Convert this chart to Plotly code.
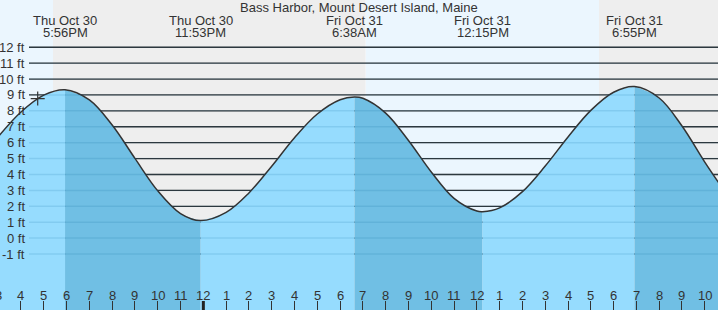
import plotly.graph_objects as go

# ---------------- data ----------------
title = "Bass Harbor, Mount Desert Island, Maine"

# hours since Thu Oct 30 00:00 and tide height (ft)
hours = [15, 16, 17, 17.933, 19, 20, 21, 22, 23, 23.883, 25, 26, 27, 28, 29, 30,
         30.633, 31, 32, 33, 34, 35, 36, 36.25, 37, 38, 39, 40, 41, 42, 42.917,
         44, 45, 46, 47]
heights = [6.37, 7.93, 8.99, 9.33, 8.69, 7.11, 5.01, 2.97, 1.54, 1.10, 1.62, 2.84,
           4.52, 6.31, 7.80, 8.70, 8.87, 8.79, 7.86, 6.14, 4.16, 2.50, 1.70, 1.66,
           1.90, 2.92, 4.53, 6.36, 8.03, 9.17, 9.53, 8.81, 7.05, 4.78, 2.67]

# high / low events
event_hours = [17.933, 23.883, 30.633, 36.25, 42.917]
event_days = ["Thu Oct 30", "Thu Oct 30", "Fri Oct 31", "Fri Oct 31", "Fri Oct 31"]
event_times = ["5:56PM", "11:53PM", "6:38AM", "12:15PM", "6:55PM"]

# current time marker
now_hour = 16.733
now_height = 8.77

# daylight (sunrise -> sunset) periods, hours
day_periods = [(0, 17.405), (31.117, 41.36)]
night_periods = [(17.405, 31.117), (41.36, 50)]

# axis ticks
y_ticks = [12, 11, 10, 9, 8, 7, 6, 5, 4, 3, 2, 1, 0, -1]
x_tick_hours = list(range(15, 47))
x_tick_labels = ["3", "4", "5", "6", "7", "8", "9", "10", "11", "12", "1", "2", "3",
                 "4", "5", "6", "7", "8", "9", "10", "11", "12", "1", "2", "3", "4",
                 "5", "6", "7", "8", "9", "10"]
midnight_hour = 24

x_range = [15.079, 46.58]
y_range = [-4.52, 14.97]

# ---------------- styles ----------------
FONT = "Liberation Sans, Arial, sans-serif"
TXT = "#333333"
DAY_BG = "#ebf6fe"
NIGHT_BG = "#eeeeee"
WATER_RISE = "#96dcfe"
WATER_FALL = "#70bfe4"
W, H = 718, 310
label_left_px = 27
grid_start_px = 29


def xpaper(h):
    return (h - x_range[0]) / (x_range[1] - x_range[0])


fig = go.Figure()

# water fill, split at each high/low
bounds = [hours[0]] + event_hours + [hours[-1]]
for k in range(len(bounds) - 1):
    a, b = bounds[k], bounds[k + 1]
    xs = [h for h in hours if a <= h <= b]
    ys = [heights[hours.index(h)] for h in xs]
    falling = ys[0] > ys[-1]
    fig.add_trace(go.Scatter(x=[xs[0], xs[-1]], y=[y_range[0] - 2] * 2, mode="lines",
                             line=dict(width=0), hoverinfo="skip", showlegend=False))
    fig.add_trace(go.Scatter(x=xs, y=ys, mode="lines", line=dict(width=0, shape="spline"),
                             fill="tonexty",
                             fillcolor=WATER_FALL if falling else WATER_RISE,
                             hoverinfo="skip", showlegend=False))

# tide outline
fig.add_trace(go.Scatter(x=hours, y=heights, mode="lines",
                         line=dict(color="#333333", width=1.5, shape="spline"),
                         hoverinfo="skip", showlegend=False))

# current time marker
fig.add_trace(go.Scatter(x=[now_hour], y=[now_height], mode="markers",
                         marker=dict(symbol="cross-thin", size=10,
                                     line=dict(color="#333333", width=1.2)),
                         hoverinfo="skip", showlegend=False))

shapes = []
for a, b in day_periods:
    shapes.append(dict(type="rect", xref="x", yref="paper", x0=a, x1=b, y0=0, y1=1,
                       fillcolor=DAY_BG, line=dict(width=0), layer="below"))
for a, b in night_periods:
    shapes.append(dict(type="rect", xref="x", yref="paper", x0=a, x1=b, y0=0, y1=1,
                       fillcolor=NIGHT_BG, line=dict(width=0), layer="below"))
for v in y_ticks:
    shapes.append(dict(type="line", xref="paper", yref="y", x0=grid_start_px / W, x1=1,
                       y0=v, y1=v, line=dict(color="#333333", width=1.3), layer="below"))
    shapes.append(dict(type="line", xref="paper", yref="y", x0=grid_start_px / W, x1=1,
                       y0=v, y1=v, line=dict(color="rgba(0,90,150,0.13)", width=1.5),
                       layer="above"))
# thick midnight tick
shapes.append(dict(type="line", xref="x", yref="paper", x0=midnight_hour, x1=midnight_hour,
                   y0=0, y1=9 / H, line=dict(color="#222222", width=3), layer="above"))

annotations = []
for v in y_ticks:
    annotations.append(dict(xref="paper", yref="y", x=label_left_px / W, y=v,
                            text=f"{v} ft", showarrow=False, xanchor="right",
                            yanchor="middle", font=dict(family=FONT, size=13, color=TXT)))
for h, lab in zip(x_tick_hours, x_tick_labels):
    annotations.append(dict(xref="paper", yref="paper", x=xpaper(h), y=(H - 295) / H,
                            text=lab, showarrow=False, xanchor="center", yanchor="middle",
                            font=dict(family=FONT, size=13, color=TXT)))
for h, d, t in zip(event_hours, event_days, event_times):
    annotations.append(dict(xref="x", yref="paper", x=h, y=(H - 20) / H, text=d,
                            showarrow=False, xanchor="center", yanchor="middle",
                            font=dict(family=FONT, size=13, color=TXT)))
    annotations.append(dict(xref="x", yref="paper", x=h, y=(H - 32.5) / H, text=t,
                            showarrow=False, xanchor="center", yanchor="middle",
                            font=dict(family=FONT, size=13, color=TXT)))
annotations.append(dict(xref="paper", yref="paper", x=359 / W, y=(H - 7) / H, text=title,
                        showarrow=False, xanchor="center", yanchor="middle",
                        font=dict(family=FONT, size=13, color=TXT)))

fig.update_layout(
    width=W, height=H, margin=dict(l=0, r=0, t=0, b=0),
    paper_bgcolor="white", plot_bgcolor="rgba(0,0,0,0)",
    xaxis=dict(range=x_range, showgrid=False, zeroline=False, showline=False,
               tickmode="array", tickvals=x_tick_hours, ticks="inside", ticklen=9,
               tickwidth=1, tickcolor="#333333", showticklabels=False, fixedrange=True),
    yaxis=dict(range=y_range, showgrid=False, zeroline=False, showline=False,
               showticklabels=False, ticks="", fixedrange=True),
    shapes=shapes, annotations=annotations, showlegend=False,
)

fig.write_html("out.html")
